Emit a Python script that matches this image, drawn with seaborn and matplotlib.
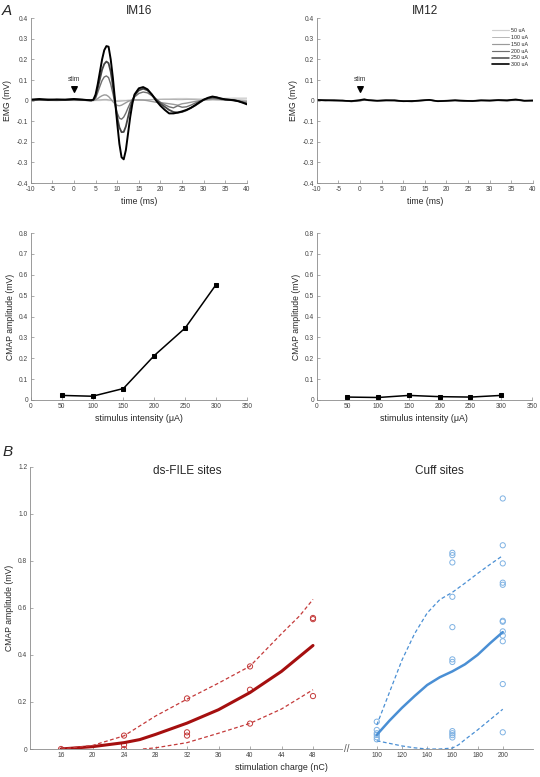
#EMG traces and CMAP recruitment (panel A) + charge vs CMAP (panel B)
import numpy as np
import pandas as pd
import matplotlib
matplotlib.use('Agg')
import matplotlib.pyplot as plt
import seaborn as sns

# ---- data ----
levels = ['50 uA', '100 uA', '150 uA', '200 uA', '250 uA', '300 uA']

t16 = [-10, -8, -6, -4, -2, 0, 2, 3, 4, 4.5, 5, 5.5, 6, 6.5, 7, 7.5, 8, 8.5, 9, 9.5,
       10, 10.5, 11, 11.5, 12, 12.5, 13, 13.5, 14, 15, 16, 17, 18, 19, 20, 21, 22, 23,
       24, 25, 26, 27, 28, 29, 30, 31, 32, 33, 34, 35, 36, 37, 38, 39, 40]
emg16_50 = [0.001, 0.002, 0.001, 0.001, 0.002, 0.001, 0.001, 0.001, 0.0, 0.0,
            0.001, 0.001, 0.001, 0.002, 0.002, 0.002, 0.001, 0.001, 0.001, 0.0,
            0.0, 0.001, 0.001, 0.001, 0.001, 0.002, 0.002, 0.002, 0.002, 0.002,
            0.003, 0.004, 0.005, 0.006, 0.007, 0.008, 0.008, 0.009, 0.01, 0.01,
            0.01, 0.009, 0.009, 0.008, 0.008, 0.009, 0.01, 0.01, 0.01, 0.011,
            0.011, 0.012, 0.012, 0.012, 0.012]
emg16_100 = [0.002, 0.003, 0.002, 0.002, 0.003, 0.002, 0.002, 0.001, 0.001, 0.001,
             0.002, 0.003, 0.004, 0.005, 0.006, 0.006, 0.004, 0.002, 0.0, -0.002,
             -0.003, -0.003, -0.002, -0.001, 0.0, 0.001, 0.001, 0.002, 0.002, 0.002,
             0.003, 0.004, 0.005, 0.005, 0.006, 0.006, 0.006, 0.006, 0.005, 0.005,
             0.006, 0.006, 0.005, 0.004, 0.003, 0.003, 0.004, 0.004, 0.005, 0.005,
             0.006, 0.005, 0.004, 0.003, 0.002]
emg16_150 = [0.002, 0.003, 0.002, 0.001, 0.002, 0.003, 0.002, 0.001, 0.0, 0.001,
             0.004, 0.01, 0.018, 0.024, 0.028, 0.027, 0.02, 0.008, -0.005, -0.016,
             -0.023, -0.025, -0.022, -0.016, -0.01, -0.004, 0.0, 0.003, 0.004, 0.004,
             0.003, 0.0, -0.004, -0.008, -0.01, -0.012, -0.015, -0.018, -0.022, -0.015,
             -0.012, -0.008, -0.004, 0.0, 0.003, 0.005, 0.006, 0.005, 0.004, 0.003,
             0.002, 0.001, 0.0, -0.002, -0.004]
emg16_200 = [0.002, 0.004, 0.003, 0.002, 0.003, 0.004, 0.003, 0.002, 0.001, 0.003,
             0.012, 0.04, 0.07, 0.098, 0.115, 0.12, 0.112, 0.08, 0.035, -0.015,
             -0.06, -0.085, -0.09, -0.08, -0.06, -0.035, -0.012, 0.005, 0.018, 0.035,
             0.042, 0.038, 0.024, 0.008, -0.008, -0.02, -0.03, -0.035, -0.025, -0.032,
             -0.03, -0.022, -0.012, -0.003, 0.004, 0.01, 0.012, 0.01, 0.006, 0.004,
             0.002, 0.0, -0.003, -0.007, -0.012]
emg16_250 = [0.003, 0.005, 0.006, 0.003, 0.004, 0.006, 0.004, 0.002, 0.001, 0.004,
             0.02, 0.06, 0.105, 0.15, 0.178, 0.19, 0.182, 0.14, 0.07, -0.01,
             -0.08, -0.13, -0.153, -0.152, -0.125, -0.08, -0.035, 0.0, 0.025, 0.05,
             0.058, 0.05, 0.03, 0.005, -0.015, -0.03, -0.045, -0.055, -0.058, -0.055,
             -0.047, -0.036, -0.024, -0.01, 0.004, 0.012, 0.017, 0.015, 0.01, 0.006,
             0.004, 0.002, -0.002, -0.008, -0.015]
emg16_300 = [0.005, 0.008, 0.004, 0.006, 0.005, 0.008, 0.005, 0.003, 0.002, 0.005,
             0.03, 0.08, 0.14, 0.2, 0.245, 0.265, 0.262, 0.2, 0.11, 0.0,
             -0.11, -0.21, -0.275, -0.285, -0.24, -0.16, -0.08, -0.015, 0.03, 0.06,
             0.066, 0.055, 0.03, 0.0, -0.025, -0.045, -0.062, -0.062, -0.058, -0.052,
             -0.045, -0.035, -0.022, -0.008, 0.005, 0.014, 0.02, 0.016, 0.01, 0.006,
             0.004, 0.002, -0.003, -0.01, -0.018]

t12 = [-10, -8, -6, -4, -2, 0, 1, 2, 4, 6, 8, 10, 12, 14, 16, 18, 20, 22, 24, 26,
       28, 30, 32, 34, 36, 38, 40]
emg12_50 = [0.0, 0.001, 0.0, 0.0, 0.0, 0.0, 0.001, 0.001, 0.0, 0.001, 0.0, 0.0, -0.001,
            0.0, 0.001, 0.0, 0.001, 0.0, 0.0, 0.001, 0.0, 0.0, 0.001, 0.0, 0.0, 0.001, 0.0]
emg12_100 = [0.001, 0.0, 0.0, 0.001, -0.001, 0.001, 0.001, 0.0, 0.001, 0.0, 0.0, -0.001, 0.0,
             0.001, 0.001, 0.0, 0.0, 0.001, 0.0, 0.0, 0.0, 0.001, 0.0, 0.001, 0.001, 0.0, 0.0]
emg12_150 = [0.0, 0.001, 0.001, 0.0, -0.002, 0.0, 0.002, 0.001, 0.0, 0.0, 0.001, -0.001, -0.001,
             0.0, 0.002, -0.001, 0.0, 0.0, 0.0, 0.0, 0.001, 0.0, 0.001, 0.0, 0.002, 0.0, 0.001]
emg12_200 = [0.001, 0.002, 0.001, 0.0, -0.003, 0.001, 0.003, 0.001, 0.0, 0.001, 0.0, -0.002, -0.001,
             0.001, 0.002, -0.001, 0.0, 0.001, -0.001, 0.0, 0.001, 0.001, 0.001, 0.0, 0.003, 0.0, 0.0]
emg12_250 = [0.002, 0.003, 0.0, 0.001, -0.004, 0.0, 0.004, 0.003, -0.001, 0.001, 0.002, -0.002, -0.004,
             0.0, 0.003, -0.002, 0.0, 0.001, -0.002, -0.001, 0.002, 0.001, 0.002, 0.0, 0.004, -0.001, 0.0]
emg12_300 = [0.004, 0.001, 0.002, 0.0, -0.002, 0.003, 0.007, 0.002, 0.0, 0.002, 0.001, -0.003, -0.002,
             0.001, 0.004, -0.003, -0.001, 0.002, 0.0, -0.002, 0.001, 0.0, 0.003, 0.002, 0.006, 0.0, 0.001]

intensity = [50, 100, 150, 200, 250, 300]
cmap_im16 = [0.022, 0.018, 0.055, 0.213, 0.345, 0.553]
cmap_im12 = [0.014, 0.012, 0.022, 0.016, 0.014, 0.022]

# ds-FILE sites
file_q = [16, 24, 24, 24, 32, 32, 32, 40, 40, 40, 48, 48, 48]
file_amp = [0.0, 0.057, 0.017, 0.0, 0.215, 0.071, 0.057, 0.351, 0.252, 0.108, 0.557, 0.552, 0.225]
file_fit_q = [16, 20, 24, 26, 28, 32, 36, 40, 44, 48]
file_fit = [0.0, 0.01, 0.027, 0.04, 0.062, 0.11, 0.167, 0.24, 0.33, 0.44]
file_hi_q = [16, 20, 24, 28, 32, 36, 40, 44, 46.3, 48]
file_hi = [0.0, 0.015, 0.056, 0.14, 0.212, 0.28, 0.352, 0.49, 0.566, 0.636]
file_lo_q = [26.4, 28, 32, 36, 40, 44, 46.3, 48]
file_lo = [0.0, 0.005, 0.027, 0.067, 0.109, 0.17, 0.217, 0.252]

# cuff sites
cuff_q = [100] * 6 + [160] * 11 + [200] * 12
cuff_amp = [0.116, 0.081, 0.067, 0.06, 0.05, 0.041,
            0.834, 0.824, 0.793, 0.647, 0.518, 0.381, 0.37, 0.076, 0.067, 0.059, 0.049,
            1.065, 0.866, 0.789, 0.707, 0.698, 0.545, 0.541, 0.5, 0.482, 0.458, 0.276, 0.071]
cuff_fit_q = [100, 110, 120, 130, 140, 150, 160, 170, 180, 190, 200]
cuff_fit = [0.06, 0.12, 0.175, 0.225, 0.272, 0.305, 0.33, 0.36, 0.40, 0.45, 0.497]
cuff_hi_q = [100, 110, 120, 130, 140, 150, 160, 170, 180, 190, 200]
cuff_hi = [0.102, 0.24, 0.378, 0.49, 0.578, 0.635, 0.666, 0.705, 0.746, 0.785, 0.822]
cuff_lo_q = [100, 110, 120, 130, 140, 150, 160, 165, 170, 180, 190, 200]
cuff_lo = [0.035, 0.024, 0.013, 0.005, 0.0, 0.0, 0.004, 0.018, 0.04, 0.081, 0.125, 0.169]

trace_colors = ['#cfcfcf', '#b4b4b4', '#9a9a9a', '#707070', '#454545', '#000000']
trace_widths = [1.0, 0.8, 1.0, 1.0, 1.3, 1.4]

# ---- style ----
sns.set_style('ticks')
plt.rcParams['font.family'] = ['Liberation Sans', 'DejaVu Sans']
plt.rcParams['axes.unicode_minus'] = False
plt.rcParams['axes.edgecolor'] = '#8a8a8a'
plt.rcParams['axes.linewidth'] = 0.6
plt.rcParams['xtick.color'] = '#8a8a8a'
plt.rcParams['ytick.color'] = '#8a8a8a'
plt.rcParams['xtick.labelcolor'] = '#444444'
plt.rcParams['ytick.labelcolor'] = '#444444'

W, H = 540, 777
fig = plt.figure(figsize=(5.4, 7.77), dpi=100)


def px_axes(x0, y0, x1, y1):
    return fig.add_axes([x0 / W, 1 - y1 / H, (x1 - x0) / W, (y1 - y0) / H])


def tidy(ax):
    sns.despine(ax=ax)
    ax.tick_params(direction='in', length=2, width=0.5, labelsize=4.8, pad=2)


def fmt(v):
    return '{:g}'.format(round(float(v), 2) + 0.0)


# ---- A: EMG traces ----
emg16 = [emg16_50, emg16_100, emg16_150, emg16_200, emg16_250, emg16_300]
emg12 = [emg12_50, emg12_100, emg12_150, emg12_200, emg12_250, emg12_300]

for (x0, x1), t, traces, title in [((30.7, 247), t16, emg16, 'IM16'),
                                    ((316.7, 533), t12, emg12, 'IM12')]:
    ax = px_axes(x0, 18.3, x1, 183)
    for lab, vals, c, lw in zip(levels, traces, trace_colors, trace_widths):
        if title == 'IM12':
            lw = lw * 0.85
        sns.lineplot(x=t, y=vals, color=c, lw=lw, ax=ax, label=lab)
    ax.set_xlim(-10, 40)
    ax.set_ylim(-0.4, 0.4)
    ax.set_xticks(range(-10, 41, 5))
    yt = [-0.4, -0.3, -0.2, -0.1, 0, 0.1, 0.2, 0.3, 0.4]
    ax.set_yticks(yt)
    ax.set_yticklabels([fmt(v) for v in yt])
    ax.scatter([0], [0.057], marker='v', color='k', s=16, zorder=5)
    ax.text(0, 0.085, 'stim', ha='center', va='bottom', fontsize=4.8, color='#333333')
    ax.set_title(title, fontsize=8.5, pad=3)
    ax.set_xlabel('time (ms)', fontsize=6.2, labelpad=3)
    ax.set_ylabel('EMG (mV)', fontsize=6.2, labelpad=3)
    tidy(ax)
    if title == 'IM12':
        ax.legend(loc='upper right', bbox_to_anchor=(1.0, 0.97), frameon=False,
                  fontsize=3.8, handlelength=3.2, labelspacing=0.35, handletextpad=0.5)
    else:
        ax.get_legend().remove()

# ---- A: CMAP vs intensity ----
for (x0, x1), vals in [((30.7, 247), cmap_im16), ((316.7, 532), cmap_im12)]:
    ax = px_axes(x0, 233, x1, 400)
    sns.lineplot(x=intensity, y=vals, color='k', lw=1.1, marker='s', markersize=2.8,
                 markeredgecolor='k', ax=ax)
    ax.set_xlim(0, 350)
    ax.set_ylim(0, 0.8)
    ax.set_xticks(range(0, 351, 50))
    yt = [0, 0.1, 0.2, 0.3, 0.4, 0.5, 0.6, 0.7, 0.8]
    ax.set_yticks(yt)
    ax.set_yticklabels([fmt(v) for v in yt])
    ax.set_xlabel('stimulus intensity (\u03bcA)', fontsize=6.4, labelpad=3)
    ax.set_ylabel('CMAP amplitude (mV)', fontsize=6.2, labelpad=3)
    tidy(ax)

# ---- B: charge vs CMAP with broken x axis ----
BRK, R0, K = 52.3, 56.1, 0.16


def fwd(q):
    q = np.asarray(q, dtype=float)
    mid = BRK + (q - BRK) * (R0 - BRK) / (100 - BRK)
    return np.where(q <= BRK, q, np.where(q < 100, mid, R0 + (q - 100) * K))


def inv(u):
    u = np.asarray(u, dtype=float)
    mid = BRK + (u - BRK) * (100 - BRK) / (R0 - BRK)
    return np.where(u <= BRK, u, np.where(u < R0, mid, 100 + (u - R0) / K))


red_line, red_light = '#a50f0f', '#c43a3a'
blue_line, blue_light = '#4a8fd4', '#7fb2e3'

axb = px_axes(30, 466.7, 533, 749)
sns.lineplot(x=file_fit_q, y=file_fit, color=red_line, lw=2.2, ax=axb)
sns.lineplot(x=file_hi_q, y=file_hi, color=red_light, lw=0.9, ls=(0, (3, 2)), ax=axb)
sns.lineplot(x=file_lo_q, y=file_lo, color=red_light, lw=0.9, ls=(0, (3, 2)), ax=axb)
sns.scatterplot(x=file_q, y=file_amp, marker='o', s=14, color=red_light, linewidth=0.7, ax=axb)
axb.collections[-1].set_facecolor('none')
axb.collections[-1].set_edgecolor(red_light)

sns.lineplot(x=cuff_fit_q, y=cuff_fit, color=blue_line, lw=1.8, ax=axb)
sns.lineplot(x=cuff_hi_q, y=cuff_hi, color=blue_line, lw=0.9, ls=(0, (3, 2)), ax=axb)
sns.lineplot(x=cuff_lo_q, y=cuff_lo, color=blue_line, lw=0.9, ls=(0, (3, 2)), ax=axb)
sns.scatterplot(x=cuff_q, y=cuff_amp, marker='o', s=14, color=blue_light, linewidth=0.7, ax=axb)
axb.collections[-1].set_facecolor('none')
axb.collections[-1].set_edgecolor(blue_light)

axb.set_xscale('function', functions=(fwd, inv))
axb.set_xlim(12.06, 224)
axb.set_ylim(0, 1.2)
xt = list(range(16, 49, 4)) + list(range(100, 201, 20))
axb.set_xticks(xt)
axb.set_xticklabels([str(v) for v in xt])
axb.xaxis.set_minor_locator(matplotlib.ticker.NullLocator())
yt = [0, 0.2, 0.4, 0.6, 0.8, 1.0, 1.2]
axb.set_yticks(yt)
axb.set_yticklabels(['0'] + ['{:.1f}'.format(v) for v in yt[1:]])
axb.text(BRK, 0, '//', ha='center', va='center', fontsize=7, color='#555555',
         bbox=dict(fc='white', ec='none', pad=0.6), clip_on=False, zorder=6)
axb.text(32, 1.18, 'ds-FILE sites', ha='center', va='center', fontsize=8.5)
axb.text(150, 1.18, 'Cuff sites', ha='center', va='center', fontsize=8.5)
axb.set_xlabel('stimulation charge (nC)', fontsize=6.4, labelpad=3)
axb.set_ylabel('CMAP amplitude (mV)', fontsize=6.2, labelpad=3)
tidy(axb)

fig.text(0.004, 1 - 11 / H, 'A', fontsize=11, style='italic', va='center')
fig.text(0.004, 1 - 452 / H, 'B', fontsize=11, style='italic', va='center')

fig.savefig('out.png', dpi=100)
